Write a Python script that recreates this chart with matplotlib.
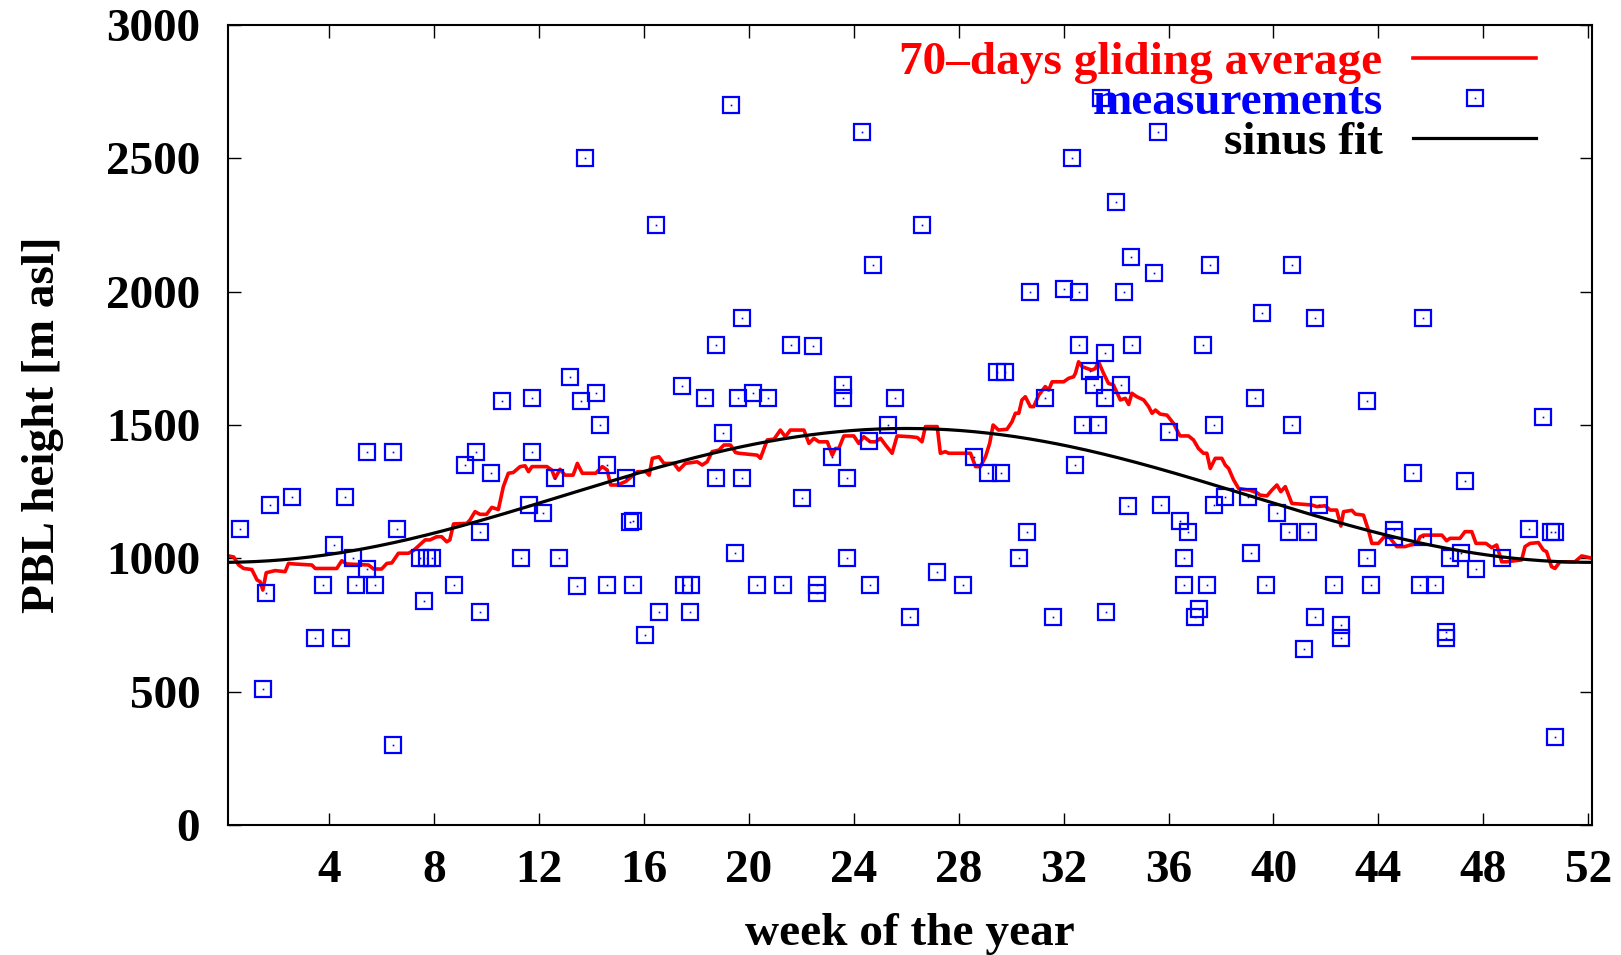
import numpy as np
import matplotlib
matplotlib.use('Agg')
import matplotlib.pyplot as plt

# measured PBL heights (week of the year, m asl)
meas_week = [0.61, 1.46, 1.6, 1.75, 2.6, 3.47, 3.75, 4.18, 4.46, 4.61, 4.89, 5.03,
             5.46, 5.46, 5.75, 6.45, 6.45, 6.6, 7.47, 7.6, 7.72, 7.92, 8.75, 9.18,
             9.6, 9.75, 9.75, 10.17, 10.6, 11.32, 11.6, 11.75, 11.75, 12.17, 12.6, 12.75,
             13.17, 13.45, 13.59, 13.74, 14.17, 14.31, 14.59, 14.59, 15.31, 15.47, 15.6, 15.6,
             16.03, 16.46, 16.59, 17.46, 17.52, 17.74, 17.78, 18.31, 18.74, 18.74, 19.02, 19.31,
             19.46, 19.6, 19.73, 19.73, 20.17, 20.32, 20.72, 21.32, 21.6, 22.02, 22.45, 22.6,
             22.6, 23.16, 23.6, 23.6, 23.73, 23.73, 24.3, 24.59, 24.6, 24.74, 25.31, 25.59,
             26.16, 26.6, 27.16, 28.17, 28.57, 29.13, 29.46, 29.62, 29.78, 30.31, 30.59, 30.72,
             31.3, 31.58, 32.0, 32.3, 32.45, 32.59, 32.59, 32.74, 33.02, 33.17, 33.32, 33.42,
             33.58, 33.58, 33.63, 34.0, 34.17, 34.3, 34.45, 34.58, 34.59, 35.44, 35.58, 35.73,
             36.0, 36.45, 36.59, 36.59, 36.74, 37.02, 37.16, 37.3, 37.45, 37.59, 37.73, 37.73,
             38.17, 39.02, 39.16, 39.3, 39.58, 39.72, 40.15, 40.59, 40.72, 40.72, 41.16, 41.3,
             41.59, 41.59, 41.73, 42.3, 42.58, 42.58, 43.58, 43.58, 43.72, 44.59, 44.59, 45.3,
             45.59, 45.71, 45.71, 46.16, 46.58, 46.58, 46.72, 47.15, 47.29, 47.72, 48.72, 49.73,
             50.29, 50.57, 50.72, 50.72]
meas_height = [1110, 510, 870, 1200, 1230, 700, 900, 1050, 700, 1230, 1000, 900,
               1400, 960, 900, 1400, 300, 1110, 1000, 840, 1000, 1000, 900, 1350,
               1400, 1100, 800, 1320, 1590, 1000, 1200, 1600, 1400, 1170, 1300, 1000,
               1680, 895, 1590, 2500, 1620, 1500, 1350, 900, 1300, 1135, 1140, 900,
               714, 2250, 800, 1645, 900, 800, 900, 1600, 1800, 1300, 1469, 2700,
               1020, 1600, 1900, 1300, 1620, 900, 1600, 900, 1800, 1225, 1795, 900,
               870, 1380, 1650, 1600, 1300, 1000, 2600, 1440, 900, 2100, 1500, 1600,
               780, 2250, 947, 900, 1380, 1320, 1700, 1320, 1700, 1000, 1100, 2000,
               1600, 780, 2010, 2500, 1350, 2000, 1800, 1500, 1704, 1650, 1500, 2725,
               1770, 1600, 800, 2335, 1650, 2000, 1195, 2130, 1800, 2070, 2600, 1200,
               1472, 1140, 1000, 900, 1100, 780, 810, 1800, 900, 2100, 1500, 1200,
               1230, 1230, 1020, 1600, 1920, 900, 1170, 1100, 2100, 1500, 660, 1100,
               1900, 780, 1200, 900, 750, 700, 1590, 1000, 900, 1107, 1080, 1320,
               900, 1900, 1080, 900, 725, 700, 1000, 1020, 1290, 960, 1000, 1110,
               1530, 1100, 1100, 329]

# 70-days gliding average
avg_week = [0.17, 0.36, 0.55, 0.74, 1.05, 1.25, 1.37, 1.47, 1.6, 1.94, 2.32, 2.45,
            2.64, 3.34, 3.47, 4.29, 4.48, 4.67, 5.5, 5.69, 6.0, 6.2, 6.39, 6.64,
            7.02, 7.21, 7.66, 7.84, 8.1, 8.29, 8.48, 8.6, 8.74, 9.25, 9.37, 9.56,
            9.75, 10.0, 10.2, 10.45, 10.64, 10.83, 11.02, 11.28, 11.47, 11.6, 11.73, 12.3,
            12.49, 12.61, 12.8, 12.99, 13.3, 13.46, 13.65, 14.16, 14.41, 14.6, 14.73, 14.99,
            15.3, 15.75, 16.07, 16.2, 16.32, 16.57, 16.76, 17.14, 17.33, 17.58, 18.03, 18.22,
            18.41, 18.6, 18.86, 19.05, 19.3, 19.49, 19.62, 20.32, 20.44, 20.7, 20.96, 21.2,
            21.39, 21.58, 22.1, 22.29, 22.48, 22.67, 22.99, 23.18, 23.3, 23.43, 23.62, 24.0,
            24.19, 24.38, 24.63, 24.83, 25.02, 25.21, 25.46, 25.65, 26.16, 26.42, 26.6, 26.73,
            27.18, 27.3, 27.49, 27.62, 28.45, 28.64, 28.83, 29.02, 29.18, 29.31, 29.52, 29.84,
            30.03, 30.16, 30.29, 30.41, 30.54, 30.73, 30.86, 31.05, 31.3, 31.43, 31.56, 32.0,
            32.19, 32.38, 32.45, 32.57, 32.7, 32.89, 33.08, 33.21, 33.33, 33.52, 33.71, 33.9,
            34.16, 34.35, 34.48, 34.6, 34.79, 35.05, 35.24, 35.37, 35.5, 35.68, 35.94, 36.19,
            36.38, 36.44, 36.76, 36.95, 37.14, 37.33, 37.46, 37.59, 37.78, 38.03, 38.16, 38.29,
            38.48, 38.67, 39.11, 39.37, 39.49, 39.75, 39.94, 40.13, 40.28, 40.45, 40.7, 40.95,
            41.46, 41.65, 41.97, 42.16, 42.41, 42.57, 42.67, 42.99, 43.12, 43.43, 43.62, 43.75,
            44.0, 44.25, 44.38, 44.7, 45.02, 45.21, 45.46, 45.59, 45.72, 46.42, 46.6, 46.73,
            47.11, 47.3, 47.56, 47.72, 48.1, 48.32, 48.51, 48.7, 48.89, 49.46, 49.59, 49.78,
            50.1, 50.29, 50.41, 50.6, 50.73, 50.92, 51.49, 51.75, 51.94, 52.14]
avg_height = [1009, 1005, 975, 962, 958, 919, 912, 881, 946, 954, 950, 981,
              979, 975, 962, 962, 991, 979, 975, 960, 960, 981, 983, 1019,
              1019, 1029, 1069, 1069, 1081, 1081, 1062, 1069, 1129, 1131, 1144, 1175,
              1165, 1165, 1191, 1183, 1269, 1319, 1322, 1344, 1347, 1325, 1344, 1344,
              1331, 1300, 1334, 1312, 1312, 1356, 1319, 1319, 1344, 1331, 1275, 1275,
              1288, 1325, 1325, 1312, 1375, 1381, 1356, 1356, 1331, 1356, 1362, 1350,
              1362, 1400, 1406, 1425, 1425, 1397, 1394, 1387, 1375, 1444, 1447, 1481,
              1456, 1481, 1481, 1431, 1450, 1437, 1437, 1387, 1412, 1412, 1459, 1459,
              1431, 1456, 1437, 1437, 1450, 1425, 1394, 1459, 1456, 1453, 1437, 1494,
              1494, 1394, 1400, 1394, 1394, 1344, 1344, 1381, 1431, 1500, 1481, 1484,
              1512, 1544, 1544, 1594, 1606, 1569, 1569, 1612, 1644, 1631, 1662, 1662,
              1675, 1681, 1694, 1737, 1719, 1712, 1706, 1712, 1737, 1694, 1656, 1650,
              1594, 1600, 1577, 1619, 1606, 1594, 1569, 1544, 1556, 1541, 1537, 1506,
              1469, 1459, 1459, 1444, 1412, 1394, 1394, 1337, 1375, 1375, 1350, 1337,
              1294, 1262, 1255, 1246, 1237, 1234, 1256, 1275, 1250, 1269, 1206, 1204,
              1200, 1194, 1197, 1181, 1181, 1121, 1175, 1180, 1166, 1162, 1106, 1056,
              1056, 1084, 1084, 1044, 1044, 1050, 1054, 1081, 1087, 1087, 1066, 1075,
              1075, 1100, 1100, 1056, 1056, 1040, 1050, 987, 987, 994, 1044, 1056,
              1059, 1031, 1025, 969, 962, 987, 987, 1009, 1005, 1000]

# sinus fit parameters
FIT_MEAN = 1236.0
FIT_AMP = 251.0
FIT_PEAK = 26.0       # week of maximum
PERIOD = 365.0 / 7.0  # weeks per year

x_ticks = list(range(4, 53, 4))
y_ticks = list(range(0, 3001, 500))

plt.rcParams['font.family'] = ['Liberation Serif', 'DejaVu Serif']
plt.rcParams['font.weight'] = 'bold'
plt.rcParams['axes.labelweight'] = 'bold'
plt.rcParams['font.size'] = 34

fig = plt.figure(figsize=(16.21, 9.55), dpi=100)
ax = fig.add_axes([228 / 1621, 130 / 955, 1364 / 1621, 800 / 955])

l_avg, = ax.plot(avg_week, avg_height, color='#ff0000', lw=2.6, zorder=2)
l_sq, = ax.plot(meas_week, meas_height, ls='none', marker='s', ms=11,
                mfc='none', mec='#0000ff', mew=1.6, zorder=3)
l_dot, = ax.plot(meas_week, meas_height, ls='none', marker='s', ms=1.2,
                 mfc='#0000ff', mec='#0000ff', mew=0, zorder=3)

wk = np.linspace(1 / 7, PERIOD, 600)
fit = FIT_MEAN + FIT_AMP * np.cos(2 * np.pi * (wk - FIT_PEAK) / PERIOD)
l_fit, = ax.plot(wk, fit, color='black', lw=2.3, zorder=4)

ax.set_xlim(1 / 7, PERIOD)
ax.set_ylim(0, 3000)
ax.set_xticks(x_ticks)
ax.set_yticks(y_ticks)
ax.tick_params(direction='in', top=True, right=True, length=9, width=1.0)
ax.tick_params(axis='x', pad=18)
ax.tick_params(axis='y', pad=20)
for s in ax.spines.values():
    s.set_linewidth(1.5)

ax.set_xlabel('week of the year', labelpad=15)
ax.set_ylabel('PBL height [m asl]', labelpad=30)

leg = ax.legend([l_avg, (l_sq, l_dot), l_fit],
                ['70\u2013days gliding average', 'measurements', 'sinus fit'],
                loc='upper right', bbox_to_anchor=(0.959, 0.98),
                markerfirst=False, frameon=False, borderpad=0, borderaxespad=0,
                handlelength=2.6, handletextpad=0.65, labelspacing=-0.06)
for t, c in zip(leg.get_texts(), ['#ff0000', '#0000ff', 'black']):
    t.set_color(c)

fig.savefig('out.png', dpi=100)
